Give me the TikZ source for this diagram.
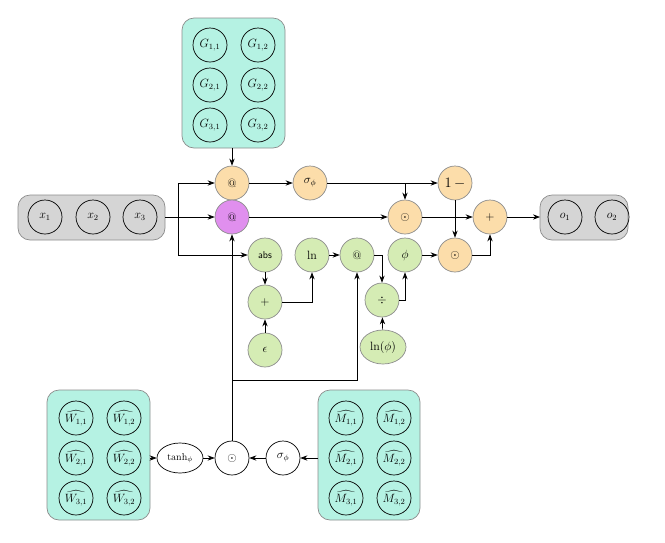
\documentclass[tikz,border=0pt]{standalone}
\usepackage{amsmath}
\usetikzlibrary{arrows.meta,shapes.geometric}
\definecolor{orng}{HTML}{FCDDAA}
\definecolor{grn}{HTML}{D5ECB4}
\definecolor{prpl}{HTML}{E08FEE}
\definecolor{teal}{HTML}{B5F2E3}
\definecolor{gry}{HTML}{D5D5D5}
\begin{document}
\begin{tikzpicture}[x=1pt,y=-1pt,>={Stealth[length=7pt]},line width=0.7pt]
\tikzset{
op/.style={circle,draw=black!45,minimum size=34pt,inner sep=0pt,font=\large},
orange op/.style={op,fill=orng},
green op/.style={op,fill=grn},
white op/.style={circle,draw,minimum size=34pt,inner sep=0pt,font=\large},
var/.style={circle,draw,minimum size=34pt,inner sep=0pt,font=\large},
box/.style={rounded corners=12pt,draw=black!45}
}
\useasboundingbox (0,0) rectangle (665,542);
% boxes
\filldraw[box,fill=teal] (182,18) rectangle (285,148);
\coordinate (gbot) at (232,148);
\filldraw[box,fill=gry] (18,195) rectangle (165,240);
\filldraw[box,fill=gry] (540,195) rectangle (628,240);
\filldraw[box,fill=teal] (47,390) rectangle (150,520);
\filldraw[box,fill=teal] (318,390) rectangle (420,520);
\coordinate (xr) at (165,217);
\coordinate (ol) at (540,217);
\coordinate (wr) at (150,458);
\coordinate (ml) at (318,458);
% variables
\foreach \r/\y in {1/45,2/85,3/125}{
  \node[var] (g\r1) at (210,\y) {$G_{\r,1}$};
  \node[var] (g\r2) at (258,\y) {$G_{\r,2}$};
}
\foreach \r/\y in {1/418,2/458,3/498}{
  \node[var] (w\r1) at (76,\y) {$\widehat{W_{\r,1}}$};
  \node[var] (w\r2) at (124,\y) {$\widehat{W_{\r,2}}$};
  \node[var] (m\r1) at (346,\y) {$\widehat{M_{\r,1}}$};
  \node[var] (m\r2) at (394,\y) {$\widehat{M_{\r,2}}$};
}
\foreach \i/\x in {1/45,2/93,3/140}
  \node[var] (x\i) at (\x,217) {$x_\i$};
\node[var] (o1) at (565,217) {$o_1$};
\node[var] (o2) at (612,217) {$o_2$};
% operations
\node[orange op] (at1) at (232,183) {@};
\node[orange op] (sig) at (310,183) {$\sigma_\phi$};
\node[orange op,font=\Large] (onem) at (455,183) {$1\,{-}$};
\node[op,fill=prpl] (at2) at (232,217) {@};
\node[orange op] (dot1) at (405,217) {$\odot$};
\node[orange op] (plus) at (490,217) {$+$};
\node[orange op] (dot2) at (455,255) {$\odot$};
\node[green op,font=\sffamily] (abs) at (265,255) {abs};
\node[green op] (ln) at (312,255) {$\ln$};
\node[green op] (at3) at (357,255) {@};
\node[green op] (phi) at (405,255) {$\phi$};
\node[green op] (gplus) at (265,302) {$+$};
\node[green op] (eps) at (265,350) {$\epsilon$};
\node[green op] (div) at (382,300) {$\div$};
\node[ellipse,draw=black!45,fill=grn,minimum width=46pt,minimum height=34pt,inner sep=0pt,font=\large] (lnphi) at (383,347) {$\ln(\phi)$};
\node[ellipse,draw,minimum width=46pt,minimum height=30pt,inner sep=0pt] (tanh) at (180,458) {$\tanh_\phi$};
\node[white op] (wdot) at (232,458) {$\odot$};
\node[white op] (wsig) at (283,458) {$\sigma_\phi$};
% connectors
\draw[->] (gbot) -- (at1);
\draw[->] (xr) -- (at2);
\draw[->] (178,217) |- (at1);
\draw[->] (178,217) |- (abs);
\draw[->] (at1) -- (sig);
\draw[->] (sig) -- (onem);
\draw[->] (405,183) -- (dot1);
\draw[->] (at2) -- (dot1);
\draw[->] (dot1) -- (plus);
\draw[->] (onem) -- (dot2);
\draw[->] (dot2) -| (plus);
\draw[->] (plus) -- (ol);
\draw[->] (abs) -- (gplus);
\draw[->] (eps) -- (gplus);
\draw[->] (gplus) -| (ln);
\draw[->] (ln) -- (at3);
\draw[->] (at3) -| (div);
\draw[->] (lnphi) -- (div);
\draw[->] (div) -| (phi);
\draw[->] (phi) -- (dot2);
\draw[->] (wr) -- (tanh);
\draw[->] (tanh) -- (wdot);
\draw[->] (ml) -- (wsig);
\draw[->] (wsig) -- (wdot);
\draw[->] (wdot) -- (at2);
\draw[->] (232,380) -| (at3);
\end{tikzpicture}
\end{document}
